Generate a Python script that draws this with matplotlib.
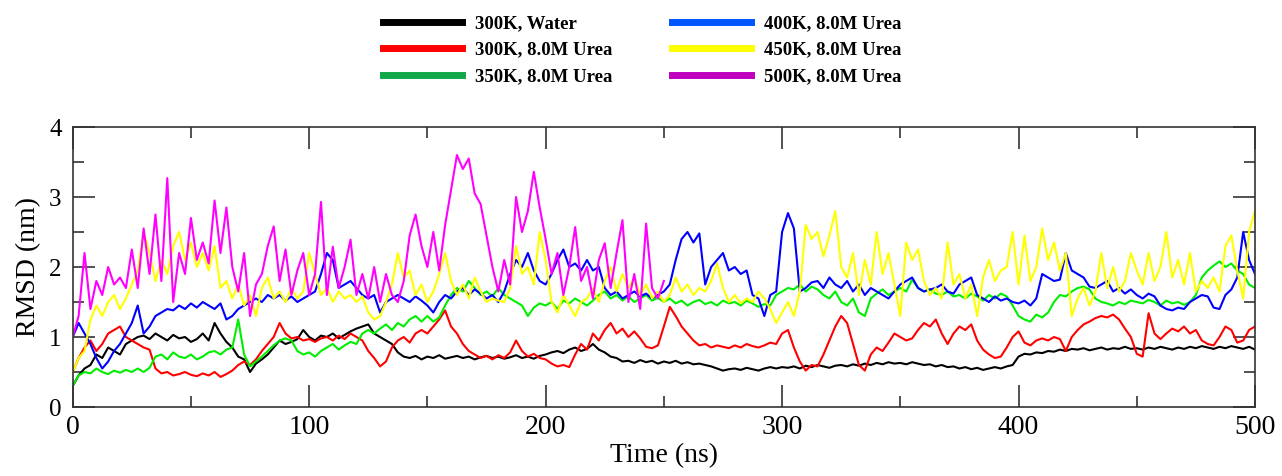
import matplotlib
matplotlib.use("Agg")
import matplotlib.pyplot as plt
import numpy as np
from matplotlib.lines import Line2D
from matplotlib.ticker import MultipleLocator

# ---------------- data (2.5 ns spacing) ----------------
dt = 2.5
time_full = [i * dt for i in range(201)]
time_500k = [i * dt for i in range(101)]

rmsd_300k_water = [
    0.30, 0.45, 0.55, 0.60, 0.75, 0.70, 0.85, 0.80, 0.75, 0.90,
    0.95, 1.00, 1.02, 0.97, 1.05, 1.00, 0.95, 1.03, 0.98, 1.00,
    0.93, 0.97, 1.05, 0.95, 1.20, 1.05, 0.93, 0.85, 0.72, 0.68,
    0.50, 0.62, 0.68, 0.75, 0.85, 0.95, 0.90, 0.93, 0.97, 1.10,
    1.00, 0.95, 1.02, 1.00, 1.05, 0.98, 1.03, 1.08, 1.12, 1.15,
    1.18, 1.05, 1.00, 0.95, 0.90, 0.78, 0.72, 0.70, 0.73, 0.68,
    0.72, 0.70, 0.74, 0.69, 0.71, 0.73, 0.70, 0.72, 0.68, 0.71,
    0.73, 0.70, 0.72, 0.69, 0.71, 0.74, 0.70, 0.72, 0.69, 0.73,
    0.75, 0.78, 0.80, 0.77, 0.82, 0.85, 0.80, 0.83, 0.90, 0.82,
    0.78, 0.72, 0.70, 0.65, 0.66, 0.63, 0.67, 0.64, 0.66, 0.62,
    0.65, 0.63, 0.66, 0.62, 0.64, 0.61, 0.62, 0.60, 0.58, 0.55,
    0.52, 0.54, 0.55, 0.53, 0.56, 0.54, 0.52, 0.55, 0.57, 0.55,
    0.57, 0.56, 0.58, 0.55, 0.59, 0.57, 0.60, 0.58, 0.56, 0.59,
    0.60, 0.58, 0.61, 0.59, 0.62, 0.60, 0.63, 0.61, 0.64, 0.62,
    0.63, 0.61, 0.64, 0.62, 0.60, 0.61, 0.58, 0.60, 0.57, 0.58,
    0.55, 0.57, 0.54, 0.56, 0.53, 0.55, 0.57, 0.55, 0.58, 0.60,
    0.72, 0.76, 0.75, 0.78, 0.77, 0.80, 0.79, 0.82, 0.80, 0.83,
    0.82, 0.84, 0.81, 0.83, 0.85, 0.82, 0.84, 0.83, 0.86, 0.83,
    0.84, 0.82, 0.85, 0.83, 0.86, 0.84, 0.82, 0.85, 0.83, 0.86,
    0.84, 0.87, 0.85, 0.83, 0.86, 0.84, 0.87, 0.85, 0.83, 0.86,
    0.82,
]

rmsd_300k_urea = [
    0.50, 0.70, 0.85, 0.95, 0.80, 0.90, 1.05, 1.10, 1.15, 1.00,
    0.95, 0.90, 0.85, 0.82, 0.55, 0.48, 0.50, 0.45, 0.47, 0.50,
    0.46, 0.44, 0.48, 0.45, 0.50, 0.43, 0.47, 0.52, 0.60, 0.65,
    0.60, 0.68, 0.80, 0.90, 1.00, 1.20, 1.05, 0.98, 1.00, 0.95,
    0.97, 0.93, 0.98, 1.00, 0.95, 1.02, 0.97, 1.05, 1.00, 0.95,
    0.80, 0.70, 0.58, 0.65, 0.85, 0.95, 1.00, 0.92, 1.05, 1.10,
    1.05, 1.15, 1.25, 1.38, 1.15, 1.05, 0.90, 0.80, 0.75, 0.70,
    0.73, 0.68, 0.74, 0.70, 0.78, 0.95, 0.80, 0.72, 0.76, 0.70,
    0.68, 0.62, 0.58, 0.60, 0.57, 0.75, 0.90, 0.82, 1.05, 0.95,
    1.10, 1.20, 1.05, 1.12, 1.00, 1.08, 0.98, 0.86, 0.84, 0.88,
    1.15, 1.43, 1.30, 1.15, 1.05, 0.95, 0.88, 0.90, 0.85, 0.88,
    0.86, 0.84, 0.88, 0.85, 0.90, 0.87, 0.85, 0.88, 0.92, 0.90,
    1.05, 1.10, 0.85, 0.65, 0.52, 0.60, 0.58, 0.75, 0.95, 1.15,
    1.30, 1.20, 0.90, 0.60, 0.52, 0.75, 0.85, 0.80, 0.92, 1.05,
    1.00, 0.95, 0.98, 1.10, 1.20, 1.15, 1.25, 1.05, 0.90, 1.05,
    1.15, 1.10, 1.18, 0.95, 0.82, 0.75, 0.70, 0.72, 0.85, 1.00,
    1.08, 0.92, 0.88, 0.95, 0.98, 0.95, 1.00, 0.97, 0.80, 1.00,
    1.10, 1.18, 1.22, 1.27, 1.30, 1.28, 1.32, 1.25, 1.12, 1.00,
    0.76, 0.72, 1.34, 1.05, 0.97, 1.05, 1.12, 1.08, 1.15, 1.05,
    1.10, 0.95, 0.90, 0.88, 1.00, 1.15, 1.10, 0.92, 0.95, 1.10,
    1.15,
]

rmsd_350k_urea = [
    0.30, 0.45, 0.50, 0.48, 0.55, 0.50, 0.47, 0.52, 0.49, 0.53,
    0.50, 0.55, 0.50, 0.56, 0.72, 0.75, 0.68, 0.78, 0.72, 0.70,
    0.75, 0.68, 0.72, 0.78, 0.80, 0.75, 0.82, 0.85, 1.25, 0.75,
    0.58, 0.65, 0.72, 0.80, 0.88, 0.95, 0.98, 0.95, 0.80, 0.75,
    0.78, 0.72, 0.80, 0.85, 0.90, 0.82, 0.88, 0.93, 0.90, 1.05,
    1.10, 1.05, 1.12, 1.18, 1.10, 1.20, 1.15, 1.25, 1.30, 1.22,
    1.30, 1.22, 1.28, 1.45, 1.60, 1.70, 1.65, 1.80, 1.70, 1.60,
    1.65, 1.58, 1.70, 1.60, 1.55, 1.50, 1.45, 1.30, 1.42, 1.48,
    1.45, 1.50, 1.40, 1.52, 1.48, 1.55, 1.50, 1.45, 1.52, 1.60,
    1.65, 1.55, 1.60, 1.52, 1.58, 1.50, 1.55, 1.60, 1.52, 1.56,
    1.50, 1.55, 1.48, 1.52, 1.45, 1.50, 1.53, 1.47, 1.50, 1.45,
    1.52, 1.48, 1.50, 1.45, 1.52, 1.48, 1.43, 1.47, 1.45, 1.60,
    1.65, 1.70, 1.68, 1.75, 1.65, 1.72, 1.68, 1.60, 1.55, 1.65,
    1.50, 1.45, 1.55, 1.35, 1.30, 1.55, 1.62, 1.68, 1.60, 1.65,
    1.70, 1.65, 1.82, 1.70, 1.65, 1.68, 1.62, 1.60, 1.65, 1.58,
    1.60, 1.55, 1.62, 1.58, 1.52, 1.60, 1.55, 1.62, 1.58, 1.45,
    1.30, 1.25, 1.22, 1.32, 1.28, 1.35, 1.50, 1.60, 1.58, 1.65,
    1.70, 1.72, 1.68, 1.55, 1.50, 1.48, 1.45, 1.50, 1.47, 1.52,
    1.50, 1.48, 1.53, 1.50, 1.45, 1.52, 1.48, 1.50, 1.46, 1.50,
    1.60, 1.85, 1.95, 2.02, 2.08, 2.00, 2.05, 1.95, 1.90, 1.75,
    1.70,
]

rmsd_400k_urea = [
    1.00, 1.20, 1.05, 0.90, 0.70, 0.55, 0.65, 0.80, 0.90, 1.05,
    1.20, 1.45, 1.05, 1.15, 1.30, 1.35, 1.40, 1.38, 1.45, 1.40,
    1.48, 1.42, 1.50, 1.45, 1.40, 1.48, 1.25, 1.30, 1.40, 1.45,
    1.50, 1.55, 1.50, 1.60, 1.55, 1.60, 1.52, 1.58, 1.50, 1.55,
    1.60, 1.65, 1.90, 2.20, 2.10, 1.70, 1.75, 1.80, 1.70, 1.60,
    1.55, 1.60, 1.35, 1.50, 1.55, 1.60, 1.55, 1.50, 1.58, 1.52,
    1.45, 1.35, 1.50, 1.60, 1.55, 1.65, 1.70, 1.60, 1.68, 1.62,
    1.55, 1.60, 1.50, 1.65, 1.90, 2.10, 2.00, 2.20, 1.95, 1.80,
    1.75, 1.90, 2.10, 2.25, 2.00, 2.05, 1.95, 2.10, 1.95, 2.00,
    1.70, 1.60, 1.65, 1.55, 1.60, 1.65, 1.58, 1.62, 1.55, 1.60,
    1.65, 1.75, 2.10, 2.40, 2.50, 2.35, 2.48, 1.75, 2.00, 2.10,
    2.20, 1.95, 2.00, 1.90, 1.95, 1.60, 1.55, 1.30, 1.60, 1.65,
    2.50, 2.77, 2.55, 1.65, 1.70, 1.78, 1.80, 1.70, 1.85, 1.75,
    1.70, 1.80, 1.65, 1.75, 1.60, 1.70, 1.65, 1.60, 1.55, 1.65,
    1.75, 1.80, 1.85, 1.70, 1.65, 1.68, 1.70, 1.75, 1.65, 1.62,
    1.75, 1.80, 1.85, 1.60, 1.55, 1.50, 1.58, 1.52, 1.55, 1.50,
    1.48, 1.52, 1.45, 1.55, 1.90, 1.85, 1.80, 1.82, 2.20, 1.95,
    1.90, 1.85, 1.72, 1.70, 1.75, 1.80, 1.65, 1.70, 1.62, 1.68,
    1.60, 1.55, 1.62, 1.58, 1.45, 1.40, 1.38, 1.42, 1.40, 1.50,
    1.55, 1.60, 1.58, 1.42, 1.40, 1.60, 1.68, 1.85, 2.50, 2.10,
    1.90,
]

rmsd_450k_urea = [
    0.50, 0.70, 0.80, 1.25, 1.45, 1.30, 1.50, 1.60, 1.40, 1.55,
    1.75, 1.95, 2.50, 2.20, 1.80, 2.10, 1.90, 2.30, 2.50, 2.10,
    2.35, 2.00, 2.20, 1.95, 2.30, 1.70, 1.80, 1.55, 1.75, 1.45,
    1.60, 1.30, 1.70, 1.85, 1.55, 1.65, 1.50, 1.70, 1.55, 1.65,
    2.20, 1.90, 1.60, 1.70, 1.50, 1.65, 1.55, 1.60, 1.50, 1.58,
    1.35, 1.25, 1.30, 1.50, 1.75, 2.20, 1.85, 1.95, 1.60, 1.75,
    1.50, 1.65, 1.90, 2.20, 1.80, 1.60, 1.75, 1.55, 1.85, 1.65,
    1.50, 1.55, 1.52, 1.50, 1.70, 2.30, 1.90, 2.00, 1.75, 2.50,
    2.10, 1.50, 1.35, 1.60, 1.45, 1.30, 1.50, 1.55, 1.70, 1.50,
    1.80, 2.00, 1.65, 1.90, 1.70, 1.85, 1.60, 1.75, 1.55, 1.65,
    1.50, 1.60, 1.85, 1.65, 1.75, 1.60, 1.70, 1.65, 1.80, 2.05,
    1.70, 1.50, 1.60, 1.48, 1.55, 1.50, 1.65, 1.55, 1.40, 1.20,
    1.35, 1.50, 1.30, 1.65, 2.60, 2.40, 2.50, 2.15, 2.45, 2.80,
    2.00, 1.85, 2.20, 1.60, 2.10, 1.75, 2.50, 1.90, 2.20, 1.75,
    1.30, 2.35, 2.10, 2.25, 1.80, 1.60, 1.70, 1.55, 2.35, 1.75,
    1.90, 1.55, 1.75, 1.30, 1.85, 2.10, 1.80, 1.95, 2.00, 2.50,
    1.75, 2.45, 1.80, 2.00, 2.55, 2.10, 2.35, 1.95, 2.20, 1.30,
    1.55, 1.70, 1.45, 1.65, 2.20, 1.70, 2.00, 1.65, 1.80, 2.20,
    1.95, 1.75, 2.20, 1.80, 2.00, 2.50, 1.85, 2.10, 1.75, 2.20,
    1.65, 1.80, 1.70, 1.85, 1.65, 2.30, 2.45, 1.95, 1.55, 2.50,
    2.80,
]

rmsd_500k_urea = [
    1.00, 1.30, 2.20, 1.40, 1.80, 1.60, 2.00, 1.75, 1.85, 1.70,
    2.25, 1.70, 2.55, 1.90, 2.75, 1.80, 3.27, 1.50, 2.20, 1.90,
    2.70, 2.10, 2.35, 2.05, 2.95, 2.20, 2.85, 2.00, 1.65, 2.20,
    1.30, 1.75, 1.90, 2.30, 2.58, 1.80, 2.25, 1.60, 1.95, 2.20,
    1.60, 1.90, 2.93, 1.60, 2.29, 1.70, 2.00, 2.39, 1.60, 1.90,
    1.55, 2.00, 1.50, 1.90, 1.60, 1.50, 1.80, 2.45, 2.75, 2.30,
    2.00, 2.50, 1.95, 2.60, 3.10, 3.60, 3.40, 3.55, 3.05, 2.90,
    2.45, 2.00, 1.65, 2.10, 1.75, 3.00, 2.50, 2.80, 3.36, 2.85,
    2.40, 1.90, 2.20, 1.60, 2.00, 2.57, 1.80, 2.00, 1.55, 2.10,
    2.34, 1.70, 2.20, 2.67, 1.50, 1.90, 1.40, 2.62, 1.70, 1.55,
    1.80,
]

series = [
    ("300K, Water", time_full, rmsd_300k_water, "#000000", "#000000"),
    ("300K, 8.0M Urea", time_full, rmsd_300k_urea, "#ff0000", "#ff0000"),
    ("350K, 8.0M Urea", time_full, rmsd_350k_urea, "#00ee00", "#12a84a"),
    ("400K, 8.0M Urea", time_full, rmsd_400k_urea, "#0000ff", "#0055ff"),
    ("450K, 8.0M Urea", time_full, rmsd_450k_urea, "#ffff00", "#ffff00"),
    ("500K, 8.0M Urea", time_500k, rmsd_500k_urea, "#ff00ff", "#c000c0"),
]

# ---------------- figure ----------------
plt.rcParams["font.family"] = ["Liberation Serif", "DejaVu Serif"]
W, H = 1282, 476
fig = plt.figure(figsize=(W / 100, H / 100), dpi=100)
ax = fig.add_axes([72.7 / W, 1 - 407 / H, (1255 - 72.7) / W, (407 - 127) / H])

for label, t, y, c, _ in series:
    ax.plot(t, y, color=c, lw=1.5, label=label)

ax.set_xlim(0, 500)
ax.set_ylim(0, 4)
ax.xaxis.set_major_locator(MultipleLocator(100))
ax.xaxis.set_minor_locator(MultipleLocator(50))
ax.yaxis.set_major_locator(MultipleLocator(1))
ax.yaxis.set_minor_locator(MultipleLocator(0.5))
ax.tick_params(which="both", direction="in", top=True, right=True,
               color="#333333", width=1.2)
ax.tick_params(which="major", length=16)
ax.tick_params(which="minor", length=8)
ax.tick_params(axis="x", which="major", labelsize=20, pad=6)
ax.tick_params(axis="y", which="major", labelsize=18, pad=8)
for s in ax.spines.values():
    s.set_color("#333333")
    s.set_linewidth(1.2)

ax.set_xlabel("Time (ns)", fontsize=20, labelpad=2)
ax.set_ylabel("RMSD (nm)", fontsize=20, labelpad=6)

handles = [Line2D([], [], color=lc, lw=5) for _, _, _, _, lc in series]
labels = [s[0] for s in series]
fig.legend(handles, labels, ncol=2, loc="upper left",
           bbox_to_anchor=(383 / W, 1 - 15 / H), frameon=False,
           prop={"weight": "bold", "size": 13.5}, handlelength=4.2,
           handletextpad=0.7, columnspacing=3.2, labelspacing=0.5,
           borderpad=0, borderaxespad=0)

fig.savefig("out.png", dpi=100)
